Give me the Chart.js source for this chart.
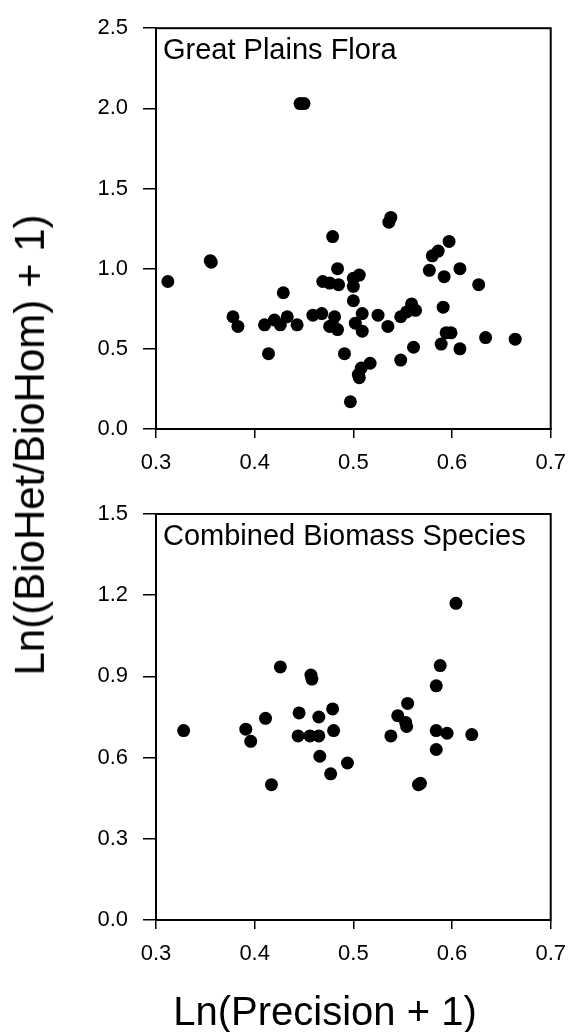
<!DOCTYPE html>
<html>
<head>
<meta charset="utf-8">
<script src="https://cdn.jsdelivr.net/npm/chart.js@4.4.1/dist/chart.umd.min.js"></script>
<style>
  body { margin: 0; background: #fff; }
  #wrap { position: relative; width: 578px; height: 1032px; }
  canvas { position: absolute; left: 0; }
  .atitle {
    position: absolute; transform: translate(-50%, -50%);
    font-family: "Liberation Sans", Arial, sans-serif; color: #000; white-space: nowrap;
    line-height: 1.1;
  }
  #ytitle { left: 30px; top: 445px; font-size: 42px; transform: translate(-50%, -50%) rotate(-90deg); }
  #xtitle { left: 325px; top: 1011px; font-size: 40px; }
</style>
</head>
<body>
<div id="wrap">
  <canvas id="topChart" width="578" height="480" style="top:0"></canvas>
  <canvas id="botChart" width="578" height="552" style="top:480px"></canvas>
  <div id="ytitle" class="atitle">Ln((BioHet/BioHom) + 1)</div>
  <div id="xtitle" class="atitle">Ln(Precision + 1)</div>
</div>
<script>
// Great Plains Flora
const topX = [0.312, 0.355, 0.356, 0.446, 0.450, 0.378, 0.383, 0.410, 0.414, 0.420,
              0.426, 0.429, 0.433, 0.443, 0.459, 0.468, 0.469, 0.476, 0.485, 0.479,
              0.484, 0.481, 0.479, 0.476, 0.484, 0.500, 0.506, 0.500, 0.500, 0.509,
              0.502, 0.509, 0.525, 0.535, 0.536, 0.538, 0.548, 0.554, 0.559, 0.563,
              0.561, 0.548, 0.491, 0.517, 0.508, 0.506, 0.505, 0.497, 0.577, 0.580,
              0.586, 0.597, 0.608, 0.592, 0.627, 0.591, 0.594, 0.599, 0.589, 0.608,
              0.634, 0.664];
const topY = [0.92, 1.05, 1.04, 2.03, 2.03, 0.70, 0.64, 0.65, 0.47, 0.68,
              0.65, 0.85, 0.70, 0.65, 0.71, 0.72, 0.92, 0.91, 0.90, 1.20,
              1.00, 0.70, 0.65, 0.64, 0.62, 0.94, 0.96, 0.89, 0.80, 0.72,
              0.66, 0.61, 0.71, 0.64, 1.29, 1.32, 0.70, 0.73, 0.78, 0.74,
              0.51, 0.43, 0.47, 0.41, 0.38, 0.32, 0.34, 0.17, 0.99, 1.08,
              1.11, 1.17, 1.00, 0.95, 0.90, 0.76, 0.60, 0.60, 0.53, 0.50,
              0.57, 0.56];

// Combined Biomass Species
const botX = [0.328, 0.391, 0.396, 0.411, 0.417, 0.426, 0.445, 0.444, 0.457, 0.458,
              0.456, 0.465, 0.465, 0.479, 0.480, 0.466, 0.477, 0.494, 0.538, 0.545,
              0.553, 0.554, 0.555, 0.566, 0.568, 0.584, 0.584, 0.584, 0.588, 0.595,
              0.604, 0.620];
const botY = [0.70, 0.705, 0.66, 0.745, 0.50, 0.935, 0.765, 0.68, 0.905, 0.89,
              0.68, 0.68, 0.75, 0.78, 0.70, 0.605, 0.54, 0.58, 0.68, 0.755,
              0.73, 0.715, 0.80, 0.50, 0.505, 0.70, 0.63, 0.865, 0.94, 0.69,
              1.17, 0.685];

const xTicks = [0.3, 0.4, 0.5, 0.6, 0.7];

const FONT = '"Liberation Sans", Arial, sans-serif';
const TICKFONT = '"Liberation Sans Narrow", "Arial Narrow", "Liberation Sans", sans-serif';

// frame round the plot + panel label in the corner
const framePlugin = {
  id: 'frame',
  afterDraw(chart, args, opts) {
    const a = chart.chartArea, c = chart.ctx;
    c.save();
    c.strokeStyle = '#000';
    c.lineWidth = 2;
    c.strokeRect(a.left, a.top, a.right - a.left, a.bottom - a.top);
    c.fillStyle = '#000';
    c.font = '29px ' + FONT;
    c.textBaseline = 'top';
    c.fillText(opts.text, a.left + 7, a.top + 8);
    c.restore();
  }
};

function makeChart(id, xs, ys, yMax, yStep, label, pad, xHeight) {
  return new Chart(document.getElementById(id), {
    type: 'scatter',
    data: {
      datasets: [{
        data: xs.map((x, i) => ({x: x, y: ys[i]})),
        backgroundColor: '#000',
        borderWidth: 0,
        pointRadius: 6.5,
        pointHoverRadius: 6.5
      }]
    },
    options: {
      responsive: false,
      animation: false,
      layout: {padding: pad},
      plugins: {
        legend: {display: false},
        tooltip: {enabled: false},
        frame: {text: label}
      },
      scales: {
        x: {
          type: 'linear', min: 0.3, max: 0.7,
          afterBuildTicks: s => { s.ticks = xTicks.map(v => ({value: v})); },
          afterFit: s => { s.height = xHeight; },
          ticks: {color: '#000', font: {family: TICKFONT, size: 22}, padding: 12,
                  maxRotation: 0, callback: v => v.toFixed(1)},
          grid: {drawOnChartArea: false, color: '#000', lineWidth: 1.5, tickLength: 9},
          border: {color: '#000', width: 2}
        },
        y: {
          type: 'linear', min: 0, max: yMax,
          afterFit: s => { s.width = 96; },
          ticks: {stepSize: yStep, color: '#000', font: {family: TICKFONT, size: 22}, padding: 15,
                  callback: v => v.toFixed(1)},
          grid: {drawOnChartArea: false, color: '#000', lineWidth: 1.5, tickLength: 13},
          border: {color: '#000', width: 2}
        }
      }
    },
    plugins: [framePlugin]
  });
}

makeChart('topChart', topX, topY, 2.5, 0.5, 'Great Plains Flora',
          {left: 60, right: 18, top: 26, bottom: 0}, 51);
makeChart('botChart', botX, botY, 1.5, 0.3, 'Combined Biomass Species',
          {left: 60, right: 18, top: 34, bottom: 0}, 112);
</script>
</body>
</html>
